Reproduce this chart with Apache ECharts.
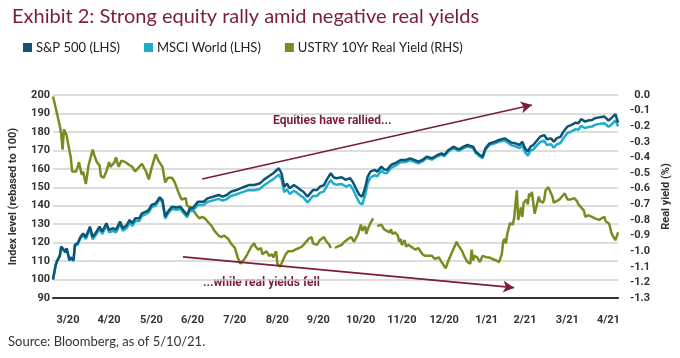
<!DOCTYPE html>
<html><head><meta charset="utf-8">
<script src="https://cdn.jsdelivr.net/npm/echarts@6/dist/echarts.min.js"></script>
<style>html,body{margin:0;padding:0;background:#fff}#c{width:680px;height:358px}</style>
</head><body><div id="c"></div>
<script>
// Days counted from 2020-03-23 (index rebased to 100 on that day) through 2021-05-10
const startY = 2020, startM = 2, startD = 23, totalDays = 413;
const eqDays = [0,2,3,5,6,9,10,12,13,15,16,18,20,22,24,27,29,31,34,36,39,41,44,46,49,51,54,56,58,60,63,65,68,70,72,75,78,80,82,84,87,90,93,95,98,100,102,106,110,113,117,121,124,127,130,134,137,140,143,147,151,154,158,161,165,167,169,171,173,176,178,181,183,186,188,190,193,195,198,200,203,205,207,211,214,217,219,222,224,226,228,230,232,235,237,240,242,244,247,250,254,258,261,264,267,270,273,277,281,284,286,289,293,295,297,300,303,305,307,309,312,314,316,319,323,326,330,332,335,338,341,343,345,347,349,351,354,356,359,361,364,366,368,371,373,376,379,382,384,386,389,391,394,396,400,403,406,408,411,413];
const sp500 = [100,108,110,113,117.9,115,117,110.6,112,110.6,118.8,119.7,123,125,123,128.7,123,125,128.7,126,130.5,126.9,127.8,126.9,131.4,127.8,129.6,132.3,130.5,133.2,133.2,135.9,136.8,137.7,140.4,141.3,144.6,143,134.1,136.8,139.5,139,139.5,137.7,135,138.6,138.6,142.2,142.2,144,144.9,145.8,144.9,145.8,147.6,148.5,149.4,150.3,151.2,151.2,152,154,156.1,157.6,160.3,157.6,150.3,152,149.4,151.2,150.3,148.5,147.6,144.9,146.7,148.5,148.5,150.3,151.2,154,157.6,155.4,154.9,155.4,154,155,153,148.5,145.8,144.9,149.4,155.8,158.5,159.4,158.5,161.2,159.7,159.4,162.1,163,164.8,164.8,165.7,164.8,163.9,164.8,166.6,165.7,167.5,168.4,167.5,170.2,172,171,170.6,172,172.9,172.4,172,169.3,167.5,166.6,171.1,173.8,174.7,175.6,176.5,175.6,174.2,173.8,172.9,174.7,171.1,169.3,172,172.9,175.6,177.4,178.3,176,176.5,174.7,176.5,177.4,180.1,182.9,183.8,185,184.7,186.9,185.6,186.2,186.5,187.4,188,188.3,186.2,187.4,189.7,185];
const msciWorld = [100,108,110,112.8,117.5,114.6,116.5,110.2,111.5,110,118,119,122.2,124,122,127.5,121.8,123.8,127.4,124.7,129.2,125.6,126.4,125.5,130,126.4,128.1,130.8,129,131.7,131.7,134.5,135.5,136.4,139.1,140.1,143.5,141.9,133,135.7,138.3,137.8,138.2,136.4,133.8,137.3,137.2,140.5,140.4,142.1,142.9,143.7,142.8,143.6,145.3,146.2,147,147.8,148.5,148.4,149.1,151,153,154.4,156.8,154.3,147.3,148.9,146.4,148.1,147.2,145.4,144.5,141.8,143.5,145.3,145.3,147,147.8,150.5,154,151.9,151.4,151.8,150.4,151.3,149.2,144.5,141.5,140.8,145.3,152.2,155.3,156.5,156,159,157.8,157.6,160.5,161.6,163.6,163.7,164.7,163.8,163,164,165.8,165,166.8,167.7,166.8,169.4,171.2,170.2,169.8,171.2,172.1,171.6,171.2,168.5,166.7,165.8,170.2,172.9,173.8,174.6,175.4,174.4,172.8,172.2,171.2,172.8,169,167.1,169.8,170.5,173,174.5,175.2,172.9,173.3,171.5,173.2,174,176.6,179.4,180.3,181.5,181.2,183.3,182.1,182.6,182.9,183.8,184.4,184.7,182.8,183.8,186.3,183];
// null = no quote (bond market holidays)
const ryDays = [0,3,5,6,7,8,10,11,13,14,17,19,21,22,24,26,29,30,32,34,35,37,39,41,42,45,46,48,50,53,56,58,60,63,65,68,70,72,75,77,80,82,84,87,89,92,94,97,98,101,102,105,107,109,111,113,116,118,121,123,125,128,130,133,135,137,140,142,145,147,148,150,152,153,156,158,160,161,163,164,166,168,170,172,175,177,180,182,184,187,189,190,193,195,198,200,202,203,204,206,208,211,213,216,218,220,223,225,226,228,229,230,232,234,235,237,240,242,244,246,247,248,250,252,253,254,255,257,258,260,263,265,267,270,272,275,277,279,282,284,287,289,291,295,296,299,301,303,304,305,306,307,308,310,312,314,315,317,319,321,324,326,328,329,330,331,332,334,335,336,337,339,340,342,343,344,346,347,348,349,350,352,353,354,355,356,358,359,360,362,364,365,366,367,368,370,371,372,373,374,376,377,378,379,381,383,384,386,388,389,390,391,394,396,399,401,403,404,406,407,408,409,411,412,413];
const realYield = [-0.01,-0.12,-0.20,-0.25,-0.35,-0.22,-0.26,-0.31,-0.40,-0.49,-0.49,-0.43,-0.51,-0.49,-0.57,-0.45,-0.35,-0.38,-0.43,-0.45,-0.52,-0.53,-0.49,-0.43,-0.46,-0.43,-0.40,-0.46,-0.42,-0.43,-0.45,-0.46,-0.49,-0.46,-0.44,-0.49,-0.54,-0.47,-0.38,-0.42,-0.46,-0.56,-0.53,-0.53,-0.56,-0.63,-0.67,-0.66,-0.71,-0.72,-0.73,-0.77,-0.79,-0.78,-0.79,-0.81,-0.84,-0.87,-0.90,-0.91,-0.90,-0.92,-0.95,-0.98,-1.04,-1.08,-1.05,-1.02,-0.97,-0.95,-0.97,-0.99,-0.98,-1.02,-1.00,-1.03,-1.02,-1.04,-1.00,-1.08,-1.10,-1.06,-1.02,-1.00,-1.00,-0.99,-0.98,-0.97,-0.95,-0.92,-0.91,-0.95,-0.96,-0.93,-0.91,-0.94,-0.96,-0.98,null,-0.98,-0.97,-0.96,-0.94,-0.92,-0.91,-0.94,-0.89,-0.83,-0.87,-0.84,-0.89,-0.86,-0.82,-0.79,null,-0.84,-0.83,-0.86,-0.87,-0.88,-0.86,-0.89,-0.88,-0.90,-0.94,-0.92,-0.96,-0.93,-0.97,-0.96,-0.98,-0.99,-0.98,-1.02,-1.03,-1.03,-1.03,-1.05,-1.04,-1.07,-1.11,-1.06,-1.02,-0.94,-0.96,-1.00,-1.04,-1.07,-1.07,-1.08,-0.99,-1.06,-1.03,-1.04,-1.07,-1.03,-1.02,-1.04,-1.04,-1.05,-1.06,-1.07,-1.02,-0.94,-0.92,-0.95,-0.89,-0.82,-0.81,-0.83,-0.79,-0.61,-0.80,-0.72,-0.78,-0.69,-0.67,-0.70,-0.63,-0.65,-0.62,-0.76,-0.75,-0.69,-0.65,-0.68,-0.69,-0.67,-0.61,-0.59,-0.63,-0.65,-0.69,-0.70,-0.68,-0.67,-0.66,-0.65,-0.64,-0.63,-0.67,-0.66,-0.67,-0.67,-0.66,-0.68,-0.70,-0.72,-0.74,-0.78,-0.79,-0.77,-0.78,-0.79,-0.80,-0.79,-0.78,-0.81,-0.82,-0.84,-0.88,-0.90,-0.93,-0.93,-0.88];
const leftTicks = {min: 90, max: 200, step: 10};
const rightTicks = {min: -1.3, max: 0, step: 0.1};
const seriesNames = ['S&P 500 (LHS)', 'MSCI World (LHS)', 'USTRY 10Yr Real Yield (RHS)'];
const titleText = 'Exhibit 2: Strong equity rally amid negative real yields';
const noteUp = 'Equities have rallied...';
const noteDown = '...while real yields fell';
const sourceText = 'Source: Bloomberg, as of 5/10/21.';
// annotation arrows in data coordinates [day, left-axis value]
const arrowUp = [[109, 154.5], [350, 194.6]];
const arrowDown = [[95, 112.3], [337, 95.6]];

const cats = [];
for (let i = 0; i <= totalDays; i++) {
  const d = new Date(startY, startM, startD + i);
  cats.push(d.getFullYear() + '-' + (d.getMonth() + 1) + '-' + d.getDate());
}
function isMonthEnd(i) {
  const d = new Date(startY, startM, startD + i + 1);
  return d.getDate() === 1;
}
const pair = (days, vals) => days.map((d, i) => [d, vals[i] === null ? '-' : vals[i]]);

const C_SP = '#0f5375', C_MS = '#1eadcb', C_RY = '#7b8a21', C_RED = '#7a1c3a';
const chart = echarts.init(document.getElementById('c'), null, {renderer: 'canvas'});
chart.setOption({
  animation: false,
  title: {text: titleText, left: 7, top: 2, textStyle: {fontFamily: 'Lato', fontWeight: 'normal', fontSize: 20, color: C_RED}},
  legend: {left: 18, top: 36, itemWidth: 9, itemHeight: 9, itemGap: 24, icon: 'rect',
    textStyle: {fontFamily: 'Lato', fontSize: 13, color: '#222', padding: [0,0,0,-1]},
    data: seriesNames},
  grid: {left: 48, right: 59, top: 95, bottom: 60},
  xAxis: {type: 'category', data: cats, boundaryGap: false,
    axisLine: {onZero: false, lineStyle: {color: '#333', width: 2}}, axisTick: {show: false},
    axisLabel: {interval: (i) => isMonthEnd(i), margin: 17, padding: [0, 0, 0, 8], fontFamily: 'Roboto', fontWeight: 'bold', fontSize: 11, color: '#333',
      formatter: (v) => { const p = v.split('-'); return p[1] + '/' + p[0].slice(2); }}},
  yAxis: [
    {type: 'value', min: leftTicks.min, max: leftTicks.max, interval: leftTicks.step,
      name: 'Index level (rebased to 100)', nameLocation: 'middle', nameGap: 34, nameRotate: 90,
      nameTextStyle: {fontFamily: 'Roboto', fontWeight: 'bold', fontSize: 11, color: '#333'},
      axisLine: {show: false}, axisTick: {show: false},
      axisLabel: {margin: 3, fontFamily: 'Roboto', fontWeight: 'bold', fontSize: 11, color: '#333'},
      splitLine: {lineStyle: {color: '#d2d2d2', width: 1.5}}},
    {type: 'value', min: rightTicks.min, max: rightTicks.max, interval: rightTicks.step,
      name: 'Real yield (%)', nameLocation: 'middle', nameGap: 42, nameRotate: 90,
      nameTextStyle: {fontFamily: 'Roboto', fontWeight: 'bold', fontSize: 11, color: '#333'},
      axisLine: {show: false}, axisTick: {show: false}, splitLine: {show: false},
      axisLabel: {margin: 32, align: 'right', fontFamily: 'Roboto', fontWeight: 'bold', fontSize: 11, color: '#333',
        formatter: (v) => (Math.abs(v) < 1e-9 ? 0 : v).toFixed(1)}}
  ],
  series: [
    {name: seriesNames[2], type: 'line', yAxisIndex: 1, data: pair(ryDays, realYield), showSymbol: false,
      connectNulls: false, lineStyle: {color: C_RY, width: 2.5}, itemStyle: {color: C_RY}},
    {name: seriesNames[1], type: 'line', yAxisIndex: 0, data: pair(eqDays, msciWorld), showSymbol: false,
      lineStyle: {color: C_MS, width: 2.5}, itemStyle: {color: C_MS}},
    {name: seriesNames[0], type: 'line', yAxisIndex: 0, data: pair(eqDays, sp500), showSymbol: false,
      lineStyle: {color: C_SP, width: 2.5}, itemStyle: {color: C_SP},
      markLine: {silent: true, symbol: ['none', 'arrow'], symbolSize: [9, 11], label: {show: false},
        lineStyle: {color: C_RED, width: 1.6, type: 'solid'},
        data: [
          [{coord: arrowUp[0]}, {coord: arrowUp[1]}],
          [{coord: arrowDown[0]}, {coord: arrowDown[1]}]
        ]}}
  ],
  graphic: [
    {type: 'text', left: 273, top: 115, style: {text: noteUp, fontFamily: 'Roboto', fontWeight: 'bold', fontSize: 12, fill: C_RED}},
    {type: 'text', left: 203, top: 277, style: {text: noteDown, fontFamily: 'Roboto', fontWeight: 'bold', fontSize: 12, fill: C_RED}},
    {type: 'text', left: 8, top: 335, style: {text: sourceText, fontFamily: 'Lato', fontSize: 13, fill: '#333'}}
  ]
});
</script></body></html>
